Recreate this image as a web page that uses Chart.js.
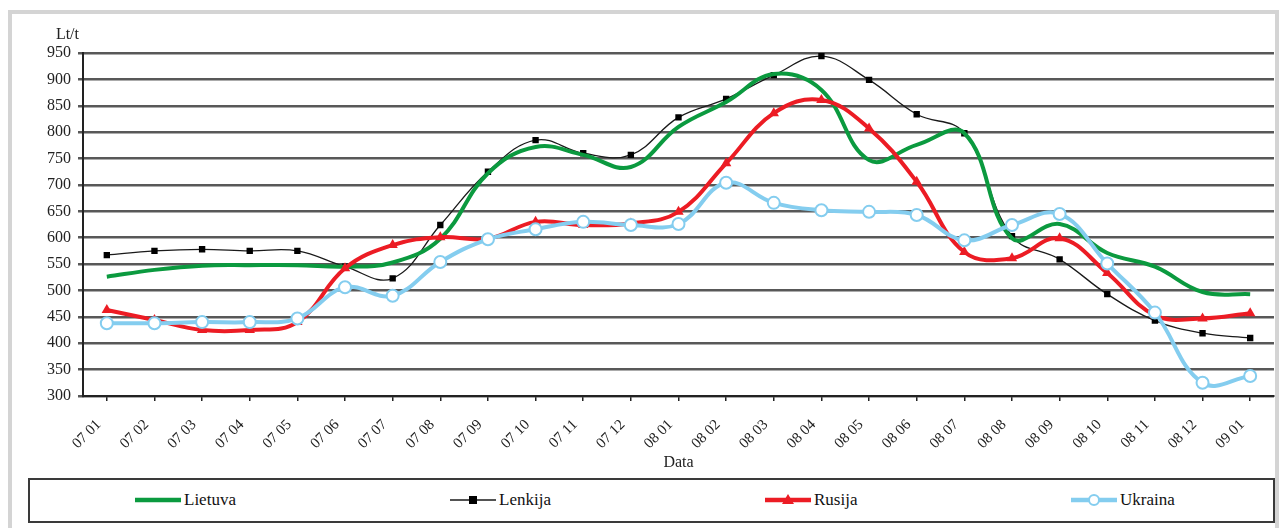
<!DOCTYPE html>
<html>
<head>
<meta charset="utf-8">
<script src="https://cdn.jsdelivr.net/npm/chart.js@4"></script>
<style>
  body { margin: 0; background: #fff; width: 1279px; height: 528px; overflow: hidden; position: relative; font-family: "Liberation Serif", serif; }
  #frame { position: absolute; left: 8px; top: 10px; width: 1263px; height: 530px; border: 4px solid #d4d4d4; border-bottom: none; }
  #wrap { position: absolute; left: 12px; top: 14px; width: 1270px; height: 460px; }
  #legend { position: absolute; left: 28px; top: 478px; width: 1243px; height: 41px; border: 2px solid #3a3a3a; }
  .item { position: absolute; top: 10px; display: flex; align-items: center; font-size: 17px; color: #111; }
  .item svg { margin-right: 3px; }
</style>
</head>
<body>
<div id="frame"></div>
<div id="wrap"><canvas id="chart"></canvas></div>
<div id="legend"></div>
<script>
'use strict';

const labels = ['07 01', '07 02', '07 03', '07 04', '07 05', '07 06', '07 07', '07 08', '07 09', '07 10', '07 11', '07 12',
  '08 01', '08 02', '08 03', '08 04', '08 05', '08 06', '08 07', '08 08', '08 09', '08 10', '08 11', '08 12', '09 01'];

const lietuva = [526, 539, 547, 548, 548, 545, 553, 598, 722, 772, 757, 734, 810, 857, 910, 880, 747, 776, 798, 599, 626, 571, 545, 497, 493];
const lenkija = [567, 575, 578, 575, 575, 545, 523, 624, 725, 785, 760, 757, 828, 863, 908, 944, 899, 834, 798, 603, 559, 493, 443, 419, 410];
const rusija = [463, 444, 425, 425, 440, 542, 586, 601, 598, 630, 624, 627, 649, 741, 836, 861, 807, 706, 573, 561, 599, 533, 453, 447, 457];
const ukraina = [438, 438, 440, 440, 447, 506, 490, 554, 597, 616, 630, 624, 626, 704, 666, 652, 649, 643, 595, 624, 645, 551, 458, 325, 338];

const names = ['Lietuva', 'Lenkija', 'Rusija', 'Ukraina'];
const colors = ['#0b9a3f', '#1a1a1a', '#ec1c24', '#84cdef'];

const serif = 'Liberation Serif';

// the "Lt/t" unit label above the y axis
const unitLabel = {
  id: 'unitLabel',
  afterDraw(chart) {
    const { ctx, chartArea } = chart;
    ctx.save();
    ctx.font = '16px "' + serif + '"';
    ctx.fillStyle = '#222';
    ctx.textAlign = 'right';
    ctx.textBaseline = 'middle';
    ctx.fillText('Lt/t', chartArea.left - 4, chartArea.top - 18);
    ctx.restore();
  }
};

new Chart('chart', {
  type: 'line',
  data: {
    labels: labels,
    datasets: [{
      label: names[0],
      data: lietuva,
      borderColor: colors[0],
      borderWidth: 4,
      pointRadius: 0,
      tension: 0.4,
      order: 2
    }, {
      label: names[1],
      data: lenkija,
      borderColor: colors[1],
      borderWidth: 1.3,
      pointStyle: 'rect',
      pointRadius: 4.5,
      pointBackgroundColor: '#000',
      pointBorderColor: '#000',
      pointBorderWidth: 0,
      tension: 0.4,
      order: 3
    }, {
      label: names[2],
      data: rusija,
      borderColor: colors[2],
      borderWidth: 4,
      pointStyle: 'triangle',
      pointRadius: 6,
      pointBackgroundColor: colors[2],
      pointBorderColor: colors[2],
      pointBorderWidth: 0,
      tension: 0.4,
      order: 1
    }, {
      label: names[3],
      data: ukraina,
      borderColor: colors[3],
      borderWidth: 4,
      pointStyle: 'circle',
      pointRadius: 6,
      pointBackgroundColor: '#fff',
      pointBorderColor: colors[3],
      pointBorderWidth: 2,
      tension: 0.4,
      order: 0
    }]
  },
  options: {
    responsive: true,
    maintainAspectRatio: false,
    animation: false,
    layout: { padding: { top: 39, right: 0, left: 0, bottom: 0 } },
    plugins: { legend: { display: false }, tooltip: { enabled: false } },
    scales: {
      x: {
        offset: true,
        afterFit(s) { s.height = 78; },
        grid: { drawOnChartArea: false, color: '#222', lineWidth: 1.5, tickLength: 5 },
        border: { color: '#222', width: 2 },
        ticks: { minRotation: 45, maxRotation: 45, color: '#222', padding: 15, labelOffset: -8, font: { family: serif, size: 15 } },
        title: { display: true, text: 'Data', color: '#222', font: { family: serif, size: 16 }, padding: { top: 0, bottom: 2 } }
      },
      y: {
        min: 300,
        max: 950,
        afterFit(s) { s.width = 71; },
        grid: { color: '#585858', lineWidth: 2.5, tickLength: 5 },
        border: { color: '#222', width: 2 },
        ticks: { stepSize: 50, color: '#222', padding: 7, font: { family: serif, size: 16 } }
      }
    }
  },
  plugins: [unitLabel]
});

// legend box under the chart
const legendX = [105, 420, 735, 1041];
const legend = document.getElementById('legend');
names.forEach((name, i) => {
  let mark = '';
  if (i === 1) mark = '<rect x="19" y="3" width="8" height="8" fill="#000"/>';
  if (i === 2) mark = '<polygon points="23,1 29,11 17,11" fill="' + colors[2] + '"/>';
  if (i === 3) mark = '<circle cx="23" cy="7" r="5" fill="#fff" stroke="' + colors[3] + '" stroke-width="2"/>';
  const w = i === 1 ? 1.3 : 4.5;
  const item = document.createElement('div');
  item.className = 'item';
  item.style.left = legendX[i] + 'px';
  item.innerHTML = '<svg width="46" height="14"><line x1="0" y1="7" x2="46" y2="7" stroke="' + colors[i] +
    '" stroke-width="' + w + '"/>' + mark + '</svg>' + name;
  legend.appendChild(item);
});
</script>
</body>
</html>
